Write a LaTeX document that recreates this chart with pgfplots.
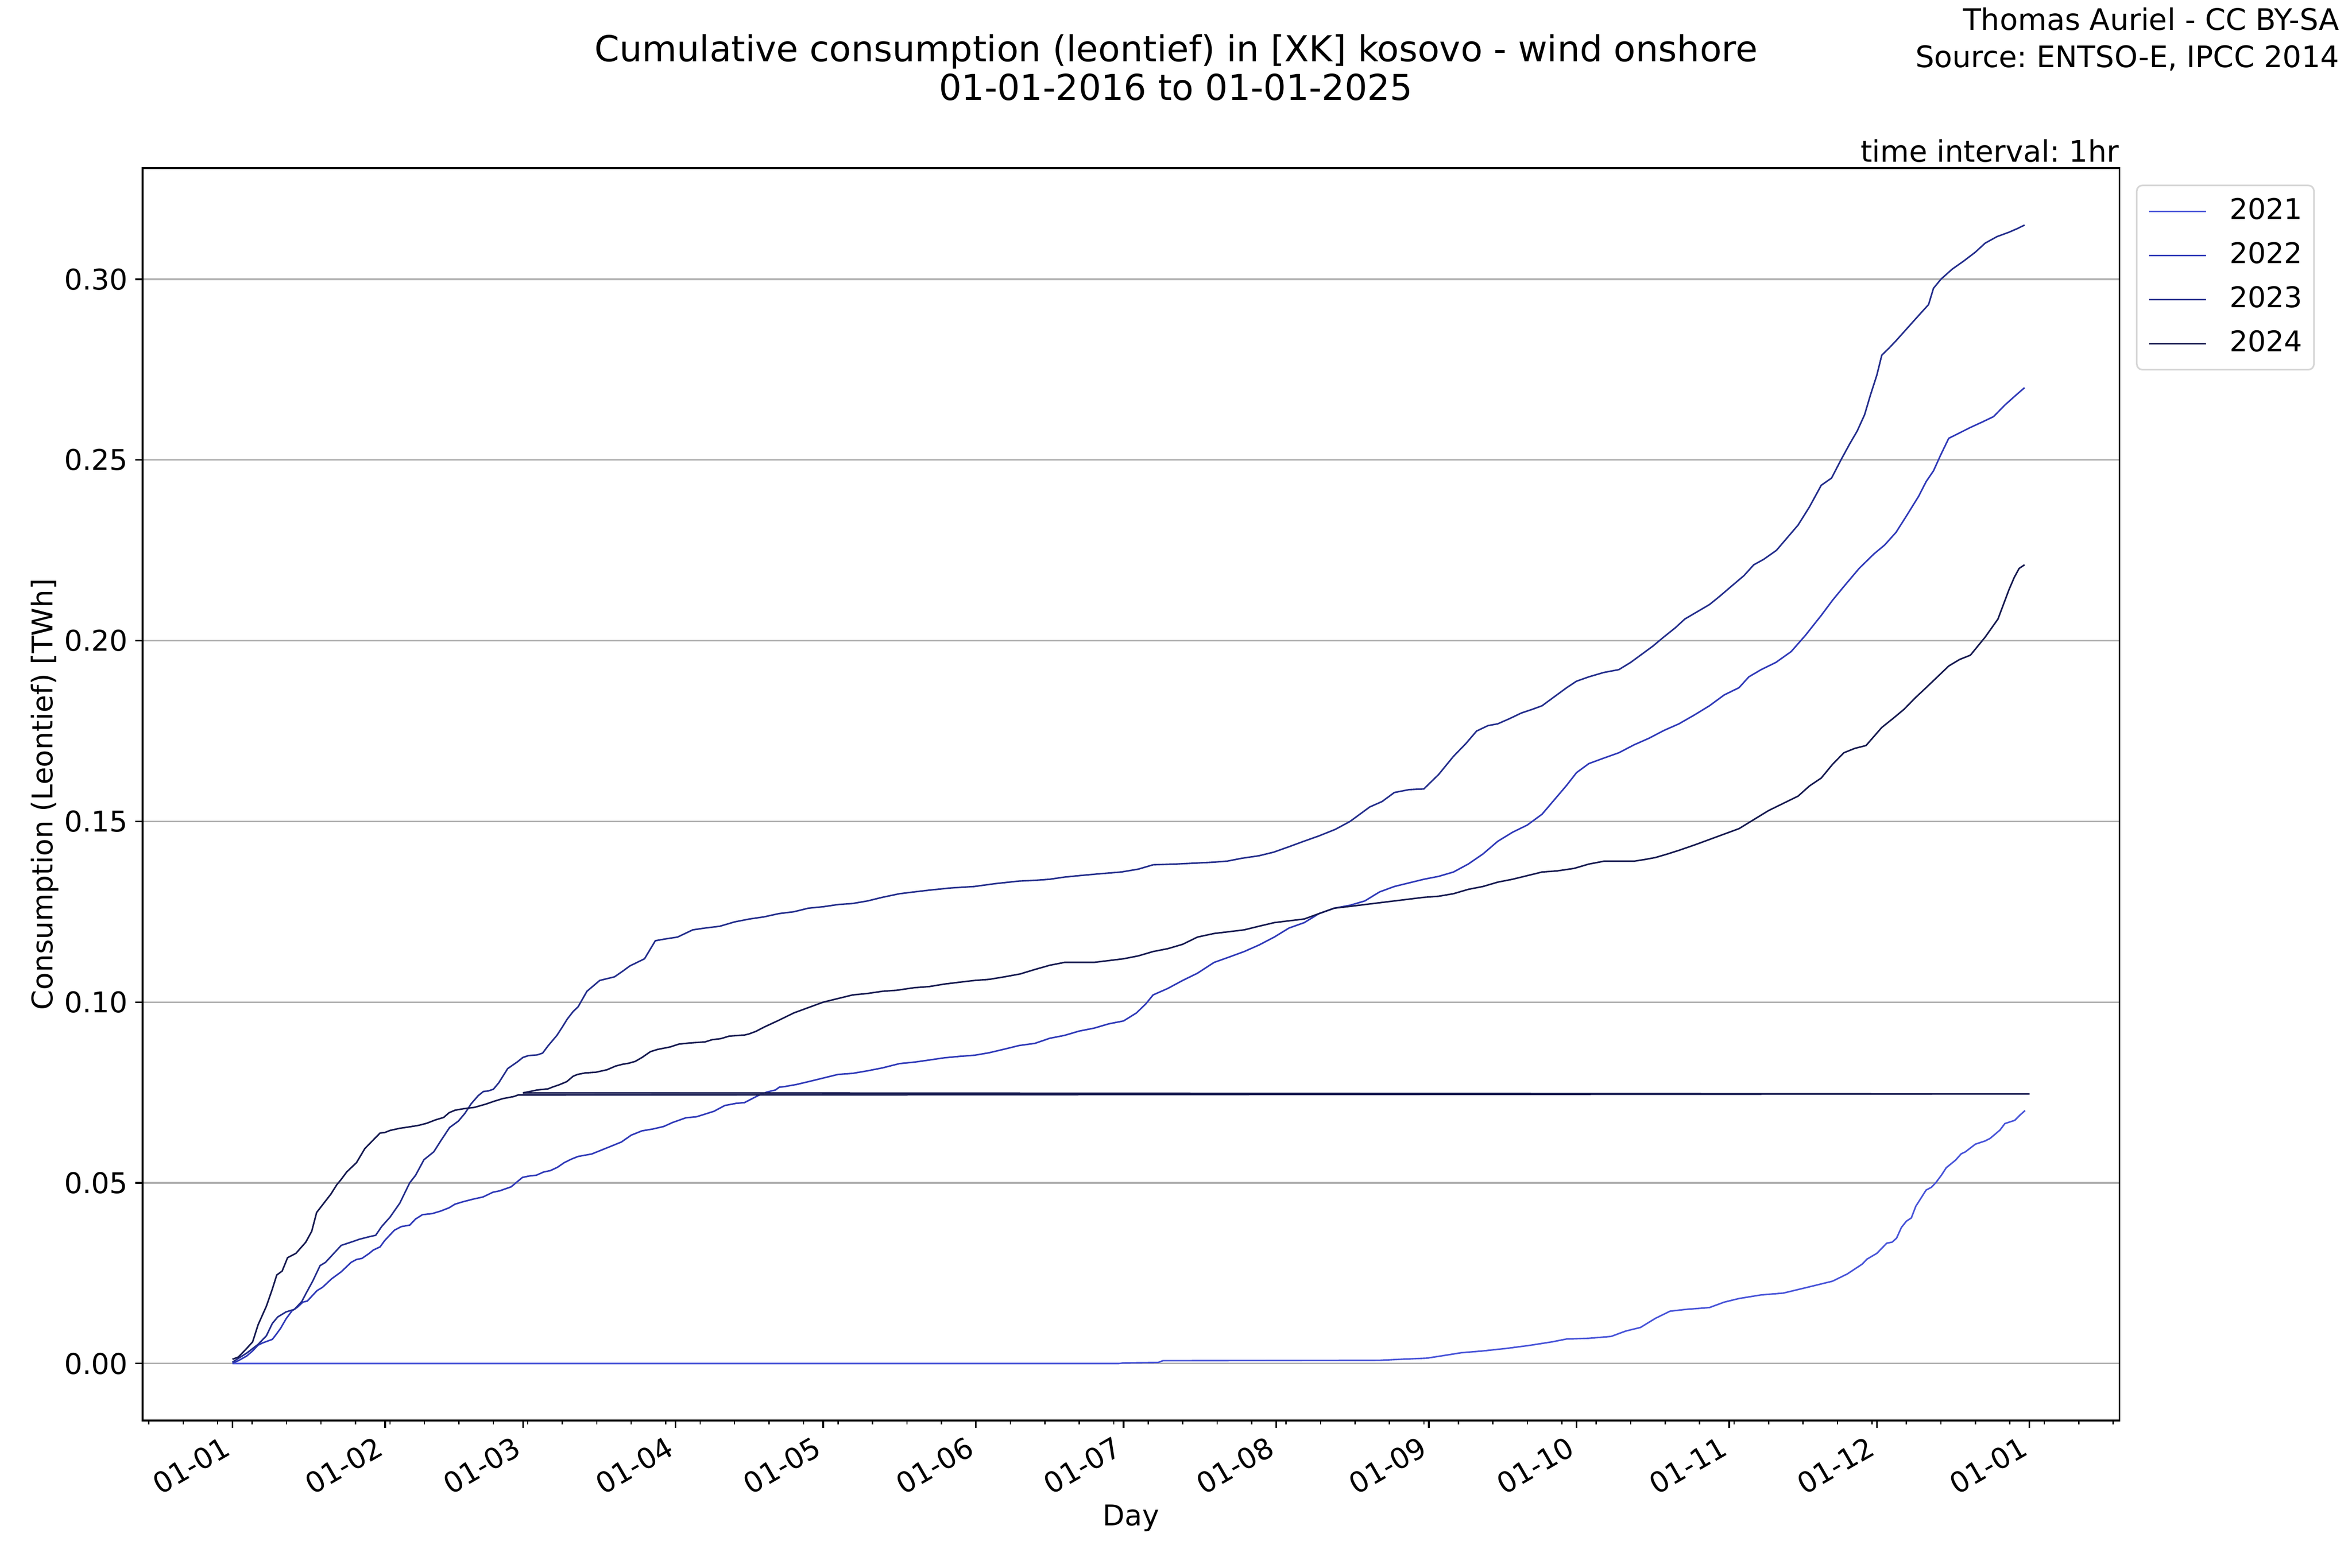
\documentclass[border=0pt]{standalone}
\usepackage{fontspec}
\setmainfont{DejaVu Sans}
\usepackage{pgfplots}
\pgfplotsset{compat=1.18}
\frenchspacing

\definecolor{c2021}{RGB}{72,84,216}
\definecolor{c2022}{RGB}{48,58,184}
\definecolor{c2023}{RGB}{36,46,140}
\definecolor{c2024}{RGB}{22,26,80}
\definecolor{gridgray}{RGB}{176,176,176}
\definecolor{leggray}{RGB}{214,214,214}

\newcommand{\fs}{\fontsize{14}{16.8}\selectfont}
\newcommand{\fa}{\fontsize{14.5}{17.4}\selectfont}

\begin{document}
\begin{tikzpicture}
\useasboundingbox (0,0) rectangle (1152pt,768pt);
\begin{axis}[
    at={(69.84pt,72.24pt)}, anchor=south west,
    scale only axis, width=968.2pt, height=613.4pt,
    xmin=-18.25, xmax=383.25, ymin=-0.01575, ymax=0.33075,
    xtick={0,31,59,90,120,151,181,212,243,273,304,334,365},
    xticklabels={01-01,01-02,01-03,01-04,01-05,01-06,01-07,01-08,01-09,01-10,01-11,01-12,01-01},
    minor xtick={-17,-10,...,382},
    ytick={0,0.05,0.1,0.15,0.2,0.25,0.3},
    yticklabels={0.00,0.05,0.10,0.15,0.20,0.25,0.30},
    tick pos=left, tick align=outside,
    major tick length=3.5pt, minor tick length=2pt,
    major tick style={black, line width=0.8pt},
    minor tick style={black, line width=0.6pt},
    axis line style={black, line width=0.8pt},
    ymajorgrids, major grid style={gridgray, line width=0.8pt},
    /pgf/number format/assume math mode=true,
    tick label style={font=\fs},
    xticklabel style={xshift=-5.2pt, rotate=30, anchor=north east, inner sep=0pt},
    xticklabel shift=3.5pt,
    yticklabel style={anchor=east, inner sep=0pt},
    yticklabel shift=3.5pt,
    xlabel={Day}, ylabel={Consumption (Leontief) [TWh]},
    label style={font=\fs},
    xlabel style={at={(axis description cs:0.5,-0.0778)}, anchor=center},
    ylabel style={at={(axis description cs:-0.0494,0.5)}, anchor=center},
    legend style={at={(axis description cs:1.0084,0.9869)}, anchor=north west,
        draw=leggray, line width=0.8pt, rounded corners=2.8pt, fill=white,
        inner xsep=5.6pt, inner ysep=6pt, row sep=8.1pt, font=\fs,
        nodes={inner sep=0pt, text height=10.5pt, text depth=3pt},
        /tikz/every odd column/.append style={column sep=11.2pt}},
    legend cell align=left,
    legend image code/.code={\draw[#1] (0pt,0pt) -- (28pt,0pt);},
    every axis plot/.append style={line width=0.75pt},
]
% 2021
\addplot[c2021] coordinates {
(0,0)(180,0)(181,0.0002)(188,0.0003)(189,0.0008)(233,0.0009)(237.5,0.0012)
(242.6,0.0015)(245,0.002)(249.6,0.003)(254,0.0035)(258.8,0.0042)(263.3,0.005)
(268,0.006)(271,0.0068)(275.5,0.007)(280,0.0075)(283,0.009)(286,0.010)
(289,0.0125)(292,0.0145)(295.3,0.015)(300,0.0155)(303,0.017)(306,0.018)
(310.5,0.019)(315,0.0195)(320.8,0.0214)(325,0.0228)(328,0.0248)(331,0.0275)
(332,0.0289)(334,0.0305)(336,0.0333)(337.1,0.0336)(338,0.0347)(339,0.0377)
(340,0.0394)(341,0.0403)(341.9,0.0435)(344,0.0480)(345.1,0.0488)(346,0.0501)
(347.1,0.0521)(348.1,0.0542)(350,0.0563)(351.1,0.0580)(352,0.0586)(354,0.0607)
(356,0.0616)(357,0.0623)(359,0.0646)(360,0.0664)(362,0.0673)(363.1,0.0688)
(364.1,0.0700)
};
\addlegendentry{2021}
% 2022
\addplot[c2022] coordinates {
(0,0.0001)(1.2,0.0008)(2.9,0.0021)(4.1,0.0035)(5.2,0.0051)(6.1,0.0057)(6.9,0.0061)
(8.1,0.0067)(8.9,0.0081)(9.8,0.0098)(10.9,0.0124)(12.1,0.0146)(13.2,0.0156)
(14.3,0.0170)(15.2,0.0173)(16.3,0.0189)(17.2,0.0202)(18.3,0.0211)(20.1,0.0234)
(22.1,0.0254)(24.1,0.0280)(25.2,0.0288)(26.3,0.0291)(27.8,0.0305)(28.6,0.0314)
(30,0.0323)(30.9,0.0340)(32.9,0.0369)(34.3,0.0379)(36,0.0383)(37.2,0.0400)
(38.6,0.0412)(40.6,0.0415)(42.3,0.0422)(44,0.0431)(45.2,0.0441)(46.9,0.0448)
(48.9,0.0455)(50.9,0.0461)(52.9,0.0474)(54.3,0.0478)(56.6,0.0489)(58.9,0.0515)
(60.3,0.0519)(61.7,0.0521)(63.2,0.0530)(64.6,0.0534)(66,0.0543)(67.4,0.0556)
(68.9,0.0566)(70.2,0.0573)(73,0.0580)(76.1,0.0597)(79,0.0613)(81,0.0632)
(83.2,0.0644)(85.4,0.0649)(87.6,0.0656)(89.4,0.0667)(92.1,0.0680)(94.3,0.0683)
(97.8,0.0698)(100,0.0714)(102.3,0.0720)(104,0.0722)(106.7,0.0741)(108.5,0.0751)
(110.3,0.0757)(111.1,0.0765)(112,0.0766)(114.5,0.0772)(117,0.078)(120,0.0790)
(123,0.080)(126,0.0803)(129,0.081)(132,0.0818)(135.5,0.083)(138.5,0.0834)
(141.6,0.084)(144.6,0.0846)(147.7,0.085)(150.7,0.0853)(153.7,0.086)(156.8,0.0870)
(159.8,0.088)(163,0.0886)(166,0.090)(169,0.0908)(172,0.092)(175,0.0928)
(178,0.094)(181,0.0948)(183.6,0.097)(185.5,0.0995)(187,0.102)(190,0.1038)
(193,0.106)(196,0.1080)(199.4,0.111)(202.5,0.1125)(205.5,0.114)(208.5,0.1158)
(211.6,0.118)(214.6,0.1205)(217.7,0.122)(220.7,0.1245)(223.8,0.126)(227,0.1268)
(230,0.128)(233,0.1305)(236,0.132)(239,0.1330)(242,0.134)(245,0.1348)(248,0.136)
(251,0.1382)(254,0.141)(257,0.1445)(260,0.147)(263,0.1490)(266,0.152)(268.5,0.1560)
(271,0.160)(273,0.1635)(275.5,0.166)(278.5,0.1675)(281.6,0.169)(284.7,0.1712)
(287.7,0.173)(290.8,0.1752)(293.8,0.177)(297,0.1795)(300,0.182)(303,0.1850)
(306,0.187)(308,0.1900)(310.5,0.192)(313.5,0.1940)(316.6,0.197)(319.5,0.2015)
(322.7,0.207)(325,0.2112)(327.3,0.215)(330.4,0.2200)(333.4,0.224)(335.6,0.2265)
(337.9,0.230)(340,0.2345)(342.5,0.240)(344,0.2440)(345.5,0.247)(347,0.2515)
(348.6,0.256)(350.8,0.2575)(353,0.259)(355.4,0.2605)(357.7,0.262)(360,0.2652)
(362.3,0.268)(364,0.270)
};
\addlegendentry{2022}
% 2023
\addplot[c2023] coordinates {
(0,0.0004)(2.9,0.0029)(5.2,0.0053)(6.9,0.0077)(8.1,0.0111)(9.2,0.0129)(10.9,0.0143)
(12.6,0.0150)(14.1,0.0172)(14.9,0.0193)(16.3,0.0228)(17.8,0.0271)(18.9,0.0280)
(20.6,0.0305)(22.1,0.0327)(24.1,0.0336)(25.8,0.0344)(27.5,0.0350)(29.1,0.0355)
(30.3,0.0379)(32,0.0405)(34,0.0444)(36,0.0500)(37.2,0.0521)(38.9,0.0564)
(40.9,0.0586)(42.3,0.0616)(44.1,0.0653)(45.9,0.0671)(47.2,0.0692)(48.5,0.0719)
(49.9,0.0741)(51,0.0753)(51.9,0.0754)(53,0.0759)(54.1,0.0777)(55.9,0.0816)
(57.9,0.0835)(59,0.0847)(60.1,0.0852)(61.9,0.0854)(63,0.0859)(64.1,0.0879)
(65.9,0.0908)(67,0.0931)(68,0.0953)(69.2,0.0974)(70.2,0.0987)(72,0.103)
(74.6,0.106)(77.6,0.107)(79.2,0.1085)(80.7,0.110)(83.7,0.112)(85.9,0.117)
(88,0.1175)(90.4,0.118)(93.5,0.120)(96,0.1205)(99,0.121)(102,0.1222)(105,0.123)
(108,0.1236)(111,0.1245)(114,0.1250)(117,0.126)(120,0.1264)(123,0.127)(126,0.1273)
(129,0.128)(132,0.1290)(135.5,0.130)(138.5,0.1305)(141.6,0.131)(146,0.1316)
(150.7,0.132)(155,0.1328)(159.8,0.1335)(163,0.1337)(166,0.134)(169,0.1346)
(172,0.135)(176,0.1355)(180.5,0.136)(184,0.1368)(187,0.138)(191.5,0.1382)
(196,0.1385)(199,0.1387)(202,0.139)(205,0.1398)(208.5,0.1405)(211.5,0.1415)
(214.6,0.143)(217.6,0.1445)(220.7,0.146)(224,0.1478)(227,0.150)(229,0.1520)
(231,0.154)(233.5,0.1555)(236,0.158)(239,0.1588)(242,0.159)(245,0.163)(248,0.168)
(250.5,0.1715)(252.7,0.175)(255,0.1765)(257,0.177)(259.5,0.1785)(261.8,0.180)
(264,0.1810)(266,0.182)(268.5,0.1845)(271,0.187)(273,0.1888)(275.5,0.190)
(278.5,0.1912)(281.6,0.192)(284,0.1940)(286,0.196)(288.5,0.1985)(290.7,0.201)
(293,0.2035)(295,0.206)(297.5,0.2080)(300,0.210)(302,0.2122)(304.4,0.215)
(307,0.2180)(309,0.221)(311,0.2225)(313.6,0.225)(315.8,0.2285)(318,0.232)
(320.3,0.2370)(322.7,0.243)(324.8,0.2450)(326.7,0.250)(328.5,0.2545)(330,0.258)
(331.5,0.2625)(332.7,0.268)(334,0.2735)(335,0.279)(336.5,0.2810)(337.9,0.283)
(340.2,0.2865)(342.5,0.290)(344.5,0.2930)(345.5,0.2975)(347,0.300)(349.3,0.3028)
(351.6,0.305)(354,0.3075)(356,0.310)(358.4,0.3118)(360.8,0.313)(362.5,0.3140)
(364,0.315)
};
\addlegendentry{2023}
% 2024 (29 Feb lands at the end of the year axis)
\addplot[c2024] coordinates {
(0,0.0012)(1.2,0.0018)(2.9,0.0042)(4.1,0.0060)(5.2,0.0107)(6.9,0.0159)(8.1,0.0206)
(9,0.0245)(10.1,0.0256)(11.2,0.0293)(12.9,0.0305)(14.9,0.0336)(16.1,0.0366)
(17.1,0.0418)(20,0.0469)(21.2,0.0495)(22,0.0508)(23.2,0.0530)(25.2,0.0556)
(26.9,0.0595)(29.2,0.0627)(30,0.0638)(30.9,0.0639)(32,0.0645)(34,0.0651)
(36,0.0655)(37.8,0.0659)(39.5,0.0665)(41.2,0.0674)(42.9,0.0681)(44,0.0694)
(45.2,0.0701)(46.9,0.0705)(49.2,0.0709)(51.5,0.0718)(53.2,0.0726)(54.9,0.0733)
(57.2,0.0739)(58,0.0743)(365,0.0746)(59,0.0749)(60.5,0.0753)(61.9,0.0757)
(64.1,0.0760)(65,0.0765)(66.3,0.0771)(67.9,0.0780)(69.2,0.0795)(70.1,0.0800)
(71.6,0.0804)(73.8,0.0806)(76.1,0.0813)(77.8,0.0823)(79.2,0.0828)(80.5,0.0831)
(81.8,0.0836)(83.2,0.0847)(84.9,0.0863)(86.3,0.0869)(88.9,0.0876)(90.7,0.0884)
(92.9,0.0887)(96,0.0890)(97.4,0.0896)(99.2,0.0899)(100.9,0.0906)(104,0.0909)
(104.9,0.0912)(106.3,0.0919)(108,0.0931)(111,0.0950)(114,0.097)(117,0.0985)
(120,0.100)(123,0.1010)(126,0.102)(129,0.1024)(132,0.103)(135,0.1033)(138.5,0.104)
(141.5,0.1043)(144.6,0.105)(147.6,0.1055)(150.7,0.106)(153.7,0.1063)(156.8,0.107)
(160,0.1078)(162.9,0.109)(166,0.1102)(169,0.111)(172,0.1110)(175,0.111)(178,0.1115)
(181,0.112)(184,0.1128)(187,0.114)(190,0.1148)(193,0.116)(196,0.1180)(199.4,0.119)
(202.5,0.1195)(205.5,0.120)(208.5,0.1210)(211.6,0.122)(214.6,0.1225)(217.7,0.123)
(220.7,0.1245)(223.8,0.126)(227,0.1265)(230,0.127)(233,0.1275)(236,0.128)
(239,0.1285)(242,0.129)(245,0.1293)(248,0.130)(251,0.1312)(254,0.132)(257,0.1332)
(260,0.134)(263,0.1350)(266,0.136)(269,0.1363)(272.5,0.137)(275.5,0.1382)
(278.6,0.139)(281.5,0.1390)(284.7,0.139)(287,0.1395)(289,0.140)(291.5,0.1410)
(293.8,0.142)(297,0.1435)(300,0.145)(303,0.1465)(306,0.148)(309,0.1505)(312,0.153)
(315,0.1550)(318,0.157)(320.3,0.1598)(322.7,0.162)(325,0.1658)(327.3,0.169)
(329.5,0.1702)(331.8,0.171)(333.4,0.1735)(335,0.176)(337.3,0.1785)(339.5,0.181)
(341.8,0.1842)(344,0.187)(346.3,0.1900)(348.6,0.193)(350.8,0.1948)(353,0.196)
(354.5,0.1985)(356,0.201)(357.3,0.2035)(358.6,0.206)(359.7,0.2100)(360.8,0.214)
(361.9,0.2175)(362.9,0.220)(364,0.221)
};
\addlegendentry{2024}
\end{axis}
\node[anchor=base, inner sep=0pt, font=\fontsize{17.5}{21}\selectfont] at (576pt,737.9pt)
  {Cumulative consumption (leontief) in [XK] kosovo - wind onshore};
\node[anchor=base, inner sep=0pt, font=\fontsize{17.5}{21}\selectfont] at (576pt,718.8pt)
  {01-01-2016 to 01-01-2025};
\node[anchor=base east, inner sep=0pt, font=\fa] at (1146pt,753.3pt) {Thomas Auriel - CC BY-SA};
\node[anchor=base east, inner sep=0pt, font=\fa] at (1146pt,734.9pt) {Source: ENTSO-E, IPCC 2014};
\node[anchor=base east, inner sep=0pt, font=\fa] at (1038.04pt,688.7pt) {time interval: 1hr};
\end{tikzpicture}
\end{document}
